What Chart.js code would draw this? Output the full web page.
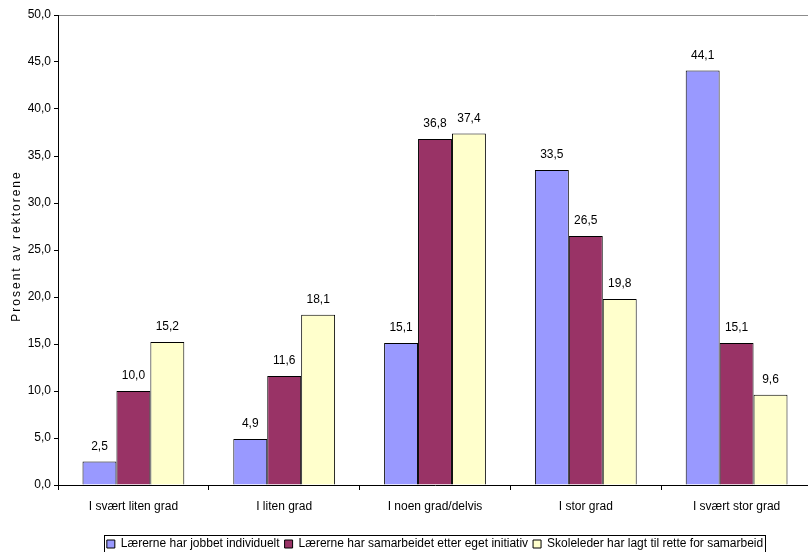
<!DOCTYPE html>
<html>
<head>
<meta charset="utf-8">
<script src="https://cdn.jsdelivr.net/npm/chart.js@4/dist/chart.umd.min.js"></script>
<style>
html,body{margin:0;padding:0;background:#fff;overflow:hidden;width:808px;height:552px;}
#wrap{position:absolute;left:0;top:0;width:812px;height:552px;}
</style>
</head>
<body>
<div id="wrap"><canvas id="c"></canvas></div>
<script>
const categories = ["I svært liten grad", "I liten grad", "I noen grad/delvis", "I stor grad", "I svært stor grad"];
const seriesNames = ["Lærerne har jobbet individuelt", "Lærerne har samarbeidet etter eget initiativ", "Skoleleder har lagt til rette for samarbeid"];
const individuelt = [2.5, 4.9, 15.1, 33.5, 44.1];
const egetInitiativ = [10.0, 11.6, 36.8, 26.5, 15.1];
const tilrettelagt = [15.2, 18.1, 37.4, 19.8, 9.6];
const yTitle = "Prosent av rektorene";

const FONT = "'Liberation Sans', Arial, sans-serif";
const fmt = v => v.toFixed(1).replace('.', ',');

const valueLabels = {
  id: 'valueLabels',
  afterDatasetsDraw(chart) {
    const ctx = chart.ctx;
    ctx.save();
    ctx.font = "12px " + FONT;
    ctx.fillStyle = '#000';
    ctx.textAlign = 'center';
    ctx.textBaseline = 'middle';
    chart.data.datasets.forEach((ds, i) => {
      chart.getDatasetMeta(i).data.forEach((bar, j) => {
        ctx.fillText(fmt(ds.data[j]), bar.x, bar.y - 15);
      });
    });
    ctx.restore();
  }
};

const extras = {
  id: 'extras',
  afterLayout(chart) {
    const lg = chart.legend;
    const shift = (chart.chartArea.left + chart.chartArea.right) / 2 - (lg.left + lg.right) / 2;
    lg.left += shift; lg.right += shift;
    lg.top += 8; lg.bottom += 8;
  },
  afterDraw(chart) {
    const ctx = chart.ctx;
    // legend frame
    const hb = chart.legend.legendHitBoxes;
    if (hb && hb.length) {
      let l = Infinity, r = -Infinity, t = Infinity, b = -Infinity;
      hb.forEach(h => { l = Math.min(l, h.left); r = Math.max(r, h.left + h.width); t = Math.min(t, h.top); b = Math.max(b, h.top + h.height); });
      ctx.save();
      ctx.strokeStyle = '#000';
      ctx.lineWidth = 1;
      ctx.strokeRect(Math.round(l) - 2.5, Math.round(t) - 2.5, Math.round(r - l) + 5, Math.round(b - t) + 5);
      ctx.restore();
    }
    // y axis title with letter spacing
    const ca = chart.chartArea;
    ctx.save();
    ctx.font = "12px " + FONT;
    ctx.fillStyle = '#000';
    try { ctx.letterSpacing = '2px'; } catch (e) {}
    ctx.translate(17, (ca.top + ca.bottom) / 2 - 4);
    ctx.rotate(-Math.PI / 2);
    ctx.textAlign = 'center';
    ctx.textBaseline = 'middle';
    ctx.fillText(yTitle, 0, 0);
    ctx.restore();
  }
};

new Chart(document.getElementById('c'), {
  type: 'bar',
  data: {
    labels: categories,
    datasets: [
      { label: seriesNames[0], data: individuelt, backgroundColor: '#9999FF', borderColor: '#000', borderWidth: 1 },
      { label: seriesNames[1], data: egetInitiativ, backgroundColor: '#993366', borderColor: '#000', borderWidth: 1 },
      { label: seriesNames[2], data: tilrettelagt, backgroundColor: '#FFFFCC', borderColor: '#000', borderWidth: 1 }
    ]
  },
  options: {
    responsive: true,
    maintainAspectRatio: false,
    animation: false,
    devicePixelRatio: 1,
    layout: { padding: { top: 15, left: 0, right: 0, bottom: 0 } },
    datasets: { bar: { categoryPercentage: 0.675, barPercentage: 1.0 } },
    scales: {
      x: {
        grid: { offset: true, drawOnChartArea: false, tickColor: '#000', tickLength: 5 },
        border: { display: true, color: '#000', width: 1 },
        ticks: { color: '#000', font: { family: FONT, size: 12 }, padding: 9, maxRotation: 0 },
        afterFit(scale) { scale.height = 40; }
      },
      y: {
        min: 0, max: 50,
        ticks: { stepSize: 5, color: '#000', font: { family: FONT, size: 12 }, padding: 3, callback: v => fmt(v) },
        grid: {
          color: c => (c.tick && c.tick.value === 50) ? '#8c8c8c' : 'rgba(0,0,0,0)',
          tickColor: '#000', tickLength: 4, lineWidth: 1
        },
        border: { display: true, color: '#000', width: 1 },
        afterFit(scale) { scale.width = 58; }
      }
    },
    plugins: {
      legend: {
        position: 'bottom',
        labels: { color: '#000', font: { family: FONT, size: 12 }, boxWidth: 8, boxHeight: 8, padding: 5 }
      },
      tooltip: { enabled: false },
      title: { display: false }
    }
  },
  plugins: [valueLabels, extras]
});
</script>
</body>
</html>
